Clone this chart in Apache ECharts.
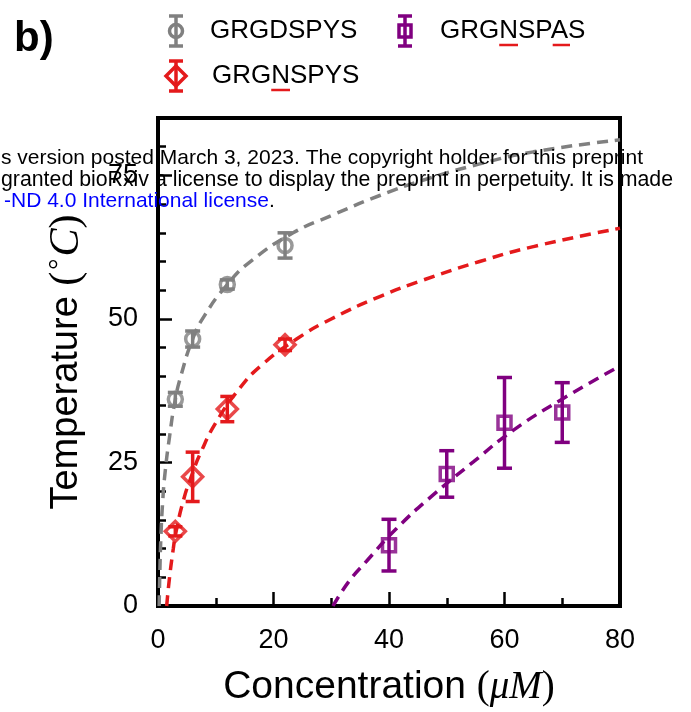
<!DOCTYPE html>
<html><head><meta charset="utf-8">
<script src="https://cdn.jsdelivr.net/npm/echarts@6/dist/echarts.min.js"></script>
<style>html,body{margin:0;padding:0;background:#fff}#c{width:691px;height:712px}</style>
</head><body><div id="c"></div>
<script>
// ---- data ----
const seriesNames = ['GRGDSPYS', 'GRGNSPYS', 'GRGNSPAS'];
const xTicks = [0, 20, 40, 60, 80];
const yTicks = [0, 25, 50, 75];

const grdsConc = [3, 6, 12, 22];
const grdsTemp = [36, 46.5, 56, 62.8];
const grdsErr  = [1.2, 1.4, 0.8, 2.2];

const grnsConc = [3, 6, 12, 22];
const grnsTemp = [13, 22.5, 34.3, 45.5];
const grnsErr  = [0.8, 4.3, 2.2, 1.0];

const grnaConc = [40, 50, 60, 70];
const grnaTemp = [10.6, 23, 31.9, 33.7];
const grnaErr  = [4.5, 4.05, 7.9, 5.2];

// fitted curves
const grdsFitX = [0.2, 0.3, 0.5, 0.8, 1.2, 2, 3, 4, 6, 8, 12, 16, 23.4, 30, 38.4, 46, 55.7, 65, 80];
const grdsFitY = [0, 5, 12, 18, 23, 29.5, 36, 40.2, 46.5, 50.5, 56, 60, 65, 68.0, 71.5, 74.2, 77.0, 79.1, 81.2];
const grnsFitX = [1.5, 2, 2.65, 3, 4.4, 6, 7.3, 10, 14.2, 18, 24, 30, 38.4, 46, 55.7, 65, 80];
const grnsFitY = [0, 5, 10, 12.3, 18.4, 23.2, 26.5, 31.9, 38.0, 42.0, 46.5, 50.0, 53.9, 56.8, 60.0, 62.6, 65.8];
const grnaFitX = [30.3, 33, 36.1, 41.3, 47.6, 54.6, 61.5, 70.1, 80];
const grnaFitY = [0, 4.2, 7.8, 13.5, 19.3, 25.1, 30.6, 36.1, 41.8];

const GREY = '#808080', RED = '#e41a1c', PURPLE = '#800080';
const SANS = '"Liberation Sans", Arial, sans-serif';
const SERIF = '"Liberation Serif", "DejaVu Serif", serif';

function pairs(xs, ys) { return xs.map((x, i) => [x, ys[i]]); }

function errSeries(name, xs, ys, es, color, capW) {
  return {
    type: 'custom', name: name, z: 3,
    data: xs.map((x, i) => [x, ys[i] - es[i], ys[i] + es[i]]),
    encode: { x: 0, y: [1, 2] },
    renderItem: function (params, api) {
      const lo = api.coord([api.value(0), api.value(1)]);
      const hi = api.coord([api.value(0), api.value(2)]);
      const st = { stroke: color, lineWidth: 3.5 };
      return { type: 'group', children: [
        { type: 'line', shape: { x1: lo[0], y1: lo[1], x2: hi[0], y2: hi[1] }, style: st },
        { type: 'line', shape: { x1: lo[0] - capW / 2, y1: lo[1], x2: lo[0] + capW / 2, y2: lo[1] }, style: st },
        { type: 'line', shape: { x1: hi[0] - capW / 2, y1: hi[1], x2: hi[0] + capW / 2, y2: hi[1] }, style: st }
      ] };
    }
  };
}
function markSeries(name, xs, ys, color, symbol, size) {
  return { type: 'scatter', name: name, z: 4, symbol: symbol, symbolSize: size,
    data: pairs(xs, ys),
    itemStyle: { color: 'rgba(0,0,0,0)', borderColor: color, borderWidth: 3.5 } };
}
function fitSeries(name, xs, ys, color) {
  return { type: 'line', name: name + ' fit', z: 2, data: pairs(xs, ys), showSymbol: false,
    smooth: 0.5,
    lineStyle: { color: color, width: 3.5, type: [11, 7] } };
}

// measure text for underlines
const mctx = document.createElement('canvas').getContext('2d');
mctx.font = '26px ' + SANS;
function w(s) { return mctx.measureText(s).width; }

const chart = echarts.init(document.getElementById('c'), null, { renderer: 'canvas' });

const legendItems = [
  { name: seriesNames[0], color: GREY, shape: 'circle', ix: 176, tx: 210, y: 31, under: [] },
  { name: seriesNames[2], color: PURPLE, shape: 'square', ix: 405, tx: 440, y: 31, under: [3, 6] },
  { name: seriesNames[1], color: RED, shape: 'diamond', ix: 176, tx: 212, y: 76, under: [3] }
];
const graphics = [];
graphics.push({ type: 'text', left: 14, top: 18, z: 50,
  style: { text: 'b)', font: 'bold 42px ' + SANS, fill: '#000' } });
legendItems.forEach(it => {
  const st = { stroke: it.color, lineWidth: 3.5, fill: 'none' };
  const ch = [
    { type: 'line', shape: { x1: 0, y1: -15, x2: 0, y2: 15 }, style: st },
    { type: 'line', shape: { x1: -7, y1: -15, x2: 7, y2: -15 }, style: st },
    { type: 'line', shape: { x1: -7, y1: 15, x2: 7, y2: 15 }, style: st }
  ];
  if (it.shape === 'circle') ch.push({ type: 'circle', shape: { cx: 0, cy: 0, r: 6.5 }, style: st });
  if (it.shape === 'square') ch.push({ type: 'rect', shape: { x: -6, y: -6, width: 12, height: 12 }, style: st });
  if (it.shape === 'diamond') ch.push({ type: 'polygon', shape: { points: [[0, -10], [10, 0], [0, 10], [-10, 0]] }, style: st });
  graphics.push({ type: 'group', x: it.ix, y: it.y, z: 50, children: ch });
  graphics.push({ type: 'text', x: it.tx, y: it.y, z: 50,
    style: { text: it.name, font: '26px ' + SANS, fill: '#000', verticalAlign: 'middle' } });
  it.under.forEach(k => {
    const x0 = it.tx + w(it.name.slice(0, k));
    const x1 = x0 + w(it.name[k]);
    graphics.push({ type: 'line', z: 50, shape: { x1: x0, y1: it.y + 14, x2: x1, y2: it.y + 14 },
      style: { stroke: RED, lineWidth: 2.5 } });
  });
});
// overlapping preprint watermark text
const wmFont = '21px ' + SANS;
graphics.push({ type: 'text', x: 1, y: 158, z: 60, style: { text: 's version posted March 3, 2023. The copyright holder for this preprint', font: wmFont, fill: '#000', verticalAlign: 'middle' } });
graphics.push({ type: 'text', x: 1, y: 180, z: 60, style: { text: 'granted bioRxiv a license to display the preprint in perpetuity. It is made', font: '21.3px ' + SANS, fill: '#000', verticalAlign: 'middle' } });
graphics.push({ type: 'text', x: 4, y: 201, z: 60, style: {
  text: '{b|-ND 4.0 International license}{k|.}', font: wmFont, verticalAlign: 'middle',
  rich: { b: { fill: '#0000ff', font: wmFont }, k: { fill: '#000', font: wmFont } } } });

const option = {
  animation: false,
  backgroundColor: '#fff',
  grid: { left: 158, right: 71, top: 118, bottom: 104, show: true, borderColor: '#000', borderWidth: 4, backgroundColor: 'transparent' },
  xAxis: {
    type: 'value', min: xTicks[0], max: xTicks[xTicks.length - 1], interval: 20,
    name: '{a|Concentration }{p|(}{i|μM}{p|)}', nameLocation: 'middle', nameGap: 62,
    nameTextStyle: { rich: {
      a: { fontFamily: SANS, fontSize: 39, color: '#000' },
      p: { fontFamily: SERIF, fontSize: 39, color: '#000' },
      i: { fontFamily: SERIF, fontStyle: 'italic', fontSize: 39, color: '#000' } } },
    axisLine: { show: true, onZero: false, lineStyle: { color: '#000', width: 4 } },
    axisTick: { show: true, inside: true, length: 14, lineStyle: { color: '#000', width: 2.5 } },
    minorTick: { show: true, splitNumber: 2, length: 8, lineStyle: { color: '#000', width: 2.5 } },
    axisLabel: { fontFamily: SANS, fontSize: 27, color: '#000', margin: 21 },
    splitLine: { show: false }, minorSplitLine: { show: false }
  },
  yAxis: [{
    type: 'value', min: 0, max: 85, interval: 25,
    name: '{a|Temperature }{p|(}{d|°}{c|C}{p|)}', nameLocation: 'middle', nameGap: 70, nameRotate: 90,
    nameTextStyle: { padding: [0, 0, 0, 0], rich: {
      a: { fontFamily: SANS, fontSize: 38, color: '#000' },
      p: { fontFamily: SERIF, fontSize: 42, color: '#000' },
      d: { fontFamily: SERIF, fontSize: 28, color: '#000', verticalAlign: 'top', padding: [0, 2, 14, 2] },
      c: { fontFamily: SERIF, fontStyle: 'italic', fontSize: 42, color: '#000' } } },
    axisLine: { show: true, onZero: false, lineStyle: { color: '#000', width: 4 } },
    axisTick: { show: true, inside: true, length: 14, lineStyle: { color: '#000', width: 2.5 } },
    axisLabel: { fontFamily: SANS, fontSize: 27, color: '#000', margin: 20,
      formatter: v => (yTicks.indexOf(v) >= 0 ? String(v) : '') },
    splitLine: { show: false }
  }, {
    type: 'value', min: 0, max: 85, interval: 5, position: 'left',
    axisLine: { show: false },
    axisTick: { show: true, inside: true, length: 8, lineStyle: { color: '#000', width: 2.5 } },
    axisLabel: { show: false }, splitLine: { show: false }
  }],
  series: [
    fitSeries(seriesNames[0], grdsFitX, grdsFitY, GREY),
    fitSeries(seriesNames[1], grnsFitX, grnsFitY, RED),
    fitSeries(seriesNames[2], grnaFitX, grnaFitY, PURPLE),
    errSeries(seriesNames[0], grdsConc, grdsTemp, grdsErr, GREY, 15),
    errSeries(seriesNames[1], grnsConc, grnsTemp, grnsErr, RED, 14),
    errSeries(seriesNames[2], grnaConc, grnaTemp, grnaErr, PURPLE, 15),
    markSeries(seriesNames[0], grdsConc, grdsTemp, GREY, 'circle', 14),
    markSeries(seriesNames[1], grnsConc, grnsTemp, RED, 'diamond', [20, 20]),
    markSeries(seriesNames[2], grnaConc, grnaTemp, PURPLE, 'rect', 13)
  ],
  graphic: graphics
};
chart.setOption(option);
</script></body></html>
